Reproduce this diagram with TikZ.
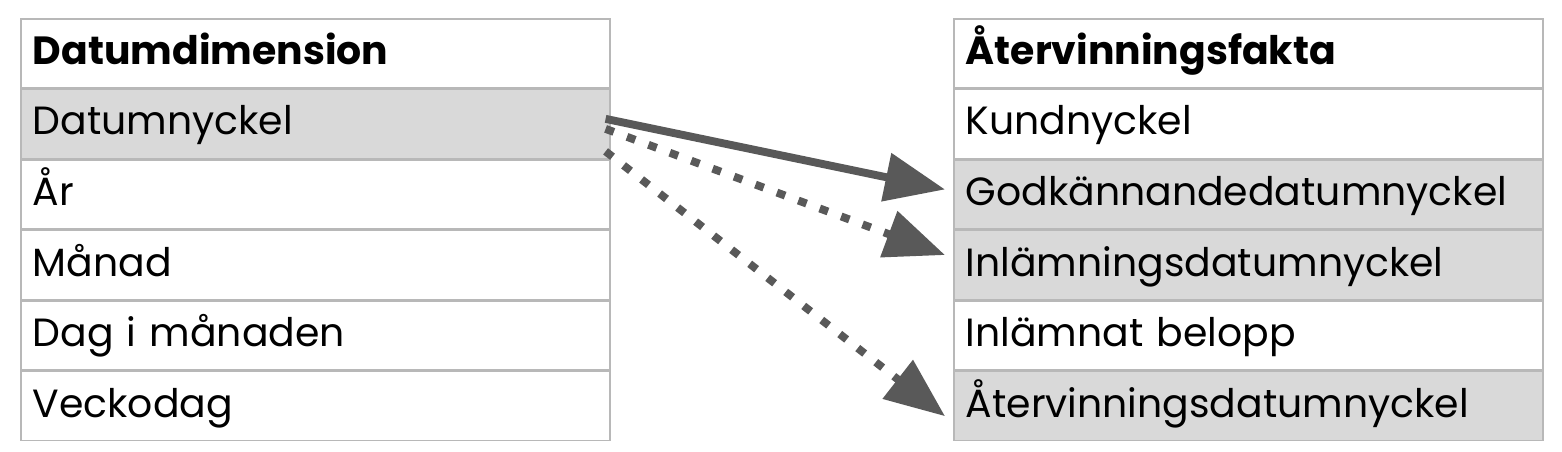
\documentclass[tikz,border=0pt]{standalone}
\usepackage{fontspec}
\setmainfont{Poppins}
\usetikzlibrary{positioning,arrows.meta}
\colorlet{rowgray}{black!15}
\colorlet{linegray}{black!28}
\colorlet{arrowgray}{black!65}
\tikzset{
  cell/.style={draw=linegray,line width=0.9pt,minimum width=11.78cm,minimum height=1.38cm,
    text width=11.3cm,align=left,inner xsep=0.24cm,inner ysep=0pt,text height=0.6cm,text depth=0.16cm,
    font=\fontsize{22.4}{26}\selectfont,anchor=north west},
  key/.style={cell,fill=rowgray},
  head/.style={cell,font=\fontsize{22.4}{26}\selectfont\bfseries},
  link/.style={arrowgray,line width=4.5pt,-{Triangle[length=1.2cm,width=0.95cm]}},
  dots/.style={link,dash pattern=on 5pt off 8pt}
}
\begin{document}
\begin{tikzpicture}
\useasboundingbox (0,0) rectangle (31.24,9.04);
% datumdimension
\node[head] (dd) at (0.4,8.68) {Datumdimension};
\node[key,below=0 of dd.south west,anchor=north west] (ddkey) {Datumnyckel};
\node[cell,below=0 of ddkey.south west,anchor=north west] (ar) {År};
\node[cell,below=0 of ar.south west,anchor=north west] (manad) {Månad};
\node[cell,below=0 of manad.south west,anchor=north west] (dag) {Dag i månaden};
\node[cell,below=0 of dag.south west,anchor=north west] (vecko) {Veckodag};
% återvinningsfakta
\node[head] (af) at (19.06,8.68) {Återvinningsfakta};
\node[cell,below=0 of af.south west,anchor=north west] (kund) {Kundnyckel};
\node[key,below=0 of kund.south west,anchor=north west] (godk) {Godkännandedatumnyckel};
\node[key,below=0 of godk.south west,anchor=north west] (inl) {Inlämningsdatumnyckel};
\node[cell,below=0 of inl.south west,anchor=north west] (belopp) {Inlämnat belopp};
\node[key,below=0 of belopp.south west,anchor=north west] (aterv) {Återvinningsdatumnyckel};
% connectors
\coordinate (s1) at ([xshift=-0.1cm,yshift=0.1cm]ddkey.east);
\coordinate (s2) at ([xshift=-0.1cm,yshift=-0.1cm]ddkey.east);
\coordinate (s3) at ([xshift=-0.1cm,yshift=-0.55cm]ddkey.east);
\draw[link] (s1) -- ([xshift=-0.16cm,yshift=0.1cm]godk.west);
\draw[dots] (s2) -- ([xshift=-0.16cm,yshift=0.2cm]inl.west);
\draw[dots] (s3) -- ([xshift=-0.16cm,yshift=-0.2cm]aterv.west);
\end{tikzpicture}
\end{document}
